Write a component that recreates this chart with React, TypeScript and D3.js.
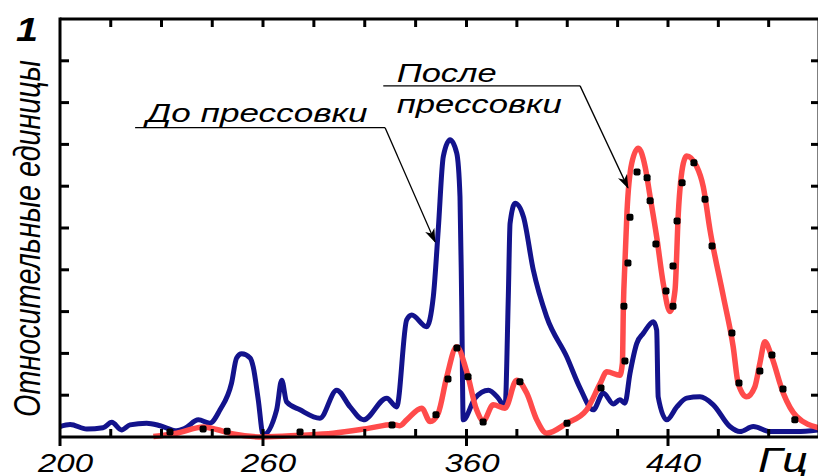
import * as d3 from "d3";
import { useEffect, useRef } from "react";

// spectra: [Hz, relative units]
const beforePressing: [number, number][] = [
  [200.0, 0.025], [203.0, 0.030], [207.9, 0.019], [212.7, 0.022], [215.3, 0.035], [218.2, 0.017],
  [220.7, 0.029], [225.6, 0.033], [229.6, 0.027], [234.5, 0.015], [236.9, 0.021], [240.9, 0.041],
  [244.3, 0.033], [247.3, 0.065], [250.7, 0.129], [252.2, 0.189], [253.7, 0.199], [256.2, 0.189],
  [257.1, 0.168], [258.6, 0.089], [260.1, 0.005], [266.7, 0.065], [269.2, 0.136], [271.6, 0.084],
  [278.2, 0.065], [288.0, 0.045], [296.2, 0.112], [302.8, 0.072], [309.3, 0.041], [320.8, 0.093],
  [325.7, 0.072], [330.6, 0.280], [333.1, 0.292], [340.4, 0.264], [343.7, 0.336], [346.1, 0.495],
  [348.6, 0.671], [351.9, 0.711], [355.2, 0.679], [356.8, 0.575], [357.6, 0.336], [358.4, 0.041],
  [363.4, 0.093], [368.7, 0.112], [372.6, 0.093], [375.3, 0.072], [376.6, 0.336], [377.3, 0.511],
  [379.3, 0.559], [382.6, 0.527], [386.5, 0.400], [391.8, 0.288], [399.8, 0.192], [405.1, 0.117],
  [410.3, 0.065], [414.3, 0.105], [418.3, 0.079], [420.9, 0.089], [422.9, 0.081], [424.9, 0.152],
  [427.6, 0.224], [430.2, 0.248], [434.2, 0.276], [435.5, 0.256], [436.1, 0.096], [439.5, 0.041],
  [443.5, 0.072], [447.4, 0.093], [452.7, 0.096], [458.0, 0.077], [464.6, 0.025], [468.6, 0.013],
  [473.9, 0.025], [480.5, 0.013], [491.1, 0.013], [500.0, 0.017],
];

const afterPressing: [number, number][] = [
  [227.6, 0.001], [234.5, 0.009], [242.4, 0.024], [246.3, 0.018], [251.2, 0.007], [260.1, 0.0],
  [278.2, 0.004], [294.5, 0.009], [311.0, 0.020], [324.0, 0.030], [327.3, 0.027], [330.6, 0.041],
  [338.0, 0.069], [342.1, 0.037], [346.1, 0.057], [350.3, 0.144], [355.2, 0.216], [360.1, 0.156],
  [364.0, 0.065], [366.7, 0.039], [370.6, 0.077], [375.3, 0.069], [379.9, 0.136], [383.9, 0.105],
  [387.9, 0.041], [391.8, 0.009], [399.8, 0.033], [407.7, 0.065], [413.0, 0.127], [415.7, 0.156],
  [420.9, 0.148], [421.9, 0.177], [422.3, 0.316], [422.9, 0.416], [423.7, 0.536], [425.6, 0.655],
  [428.2, 0.691], [430.9, 0.647], [432.9, 0.575], [435.5, 0.479], [438.1, 0.368], [440.8, 0.300],
  [442.8, 0.352], [444.1, 0.535], [446.1, 0.655], [447.4, 0.672], [451.4, 0.647], [454.0, 0.599],
  [456.7, 0.495], [462.0, 0.336], [465.9, 0.216], [467.9, 0.128], [471.2, 0.096], [474.5, 0.120],
  [476.5, 0.176], [478.5, 0.228], [481.2, 0.192], [485.8, 0.105], [491.1, 0.049], [500.0, 0.022],
];

// black measured points along the red curve
const afterMarkers: [number, number][] = [
  [232.5, 0.012], [242.3, 0.019], [249.4, 0.014], [278.2, 0.012], [323.4, 0.029], [345.0, 0.053],
  [350.9, 0.139], [355.3, 0.213], [360.6, 0.144], [366.6, 0.036], [381.2, 0.132], [399.9, 0.033],
  [413.4, 0.117], [422.9, 0.182], [422.5, 0.313], [424.1, 0.416], [424.9, 0.526], [427.7, 0.634],
  [431.7, 0.620], [432.9, 0.565], [435.2, 0.462], [439.2, 0.349], [442.0, 0.313], [442.0, 0.409],
  [443.6, 0.517], [445.6, 0.608], [450.3, 0.656], [454.7, 0.569], [457.5, 0.457], [465.4, 0.249],
  [468.2, 0.129], [476.5, 0.158], [481.3, 0.196], [485.7, 0.115], [490.4, 0.041],
];

// the axis labels are evenly spaced although their values are not
const majorTicks = [200, 260, 360, 440];
const minorTicks = [215, 230, 245, 285, 310, 335, 380, 400, 420, 460, 480];
const yTicks = [0.1, 0.2, 0.3, 0.4, 0.5, 0.6, 0.7, 0.8, 0.9];

export default function App() {
  const ref = useRef<SVGSVGElement>(null);

  useEffect(() => {
    const svg = d3.select(ref.current);
    svg.selectAll("*").remove();

    const width = 818;
    const height = 476;
    svg.attr("width", width).attr("height", height);

    const x = d3.scaleLinear()
      .domain([200, 260, 360, 440, 500])
      .range([60, 263, 466.5, 668, 819]);
    const y = d3.scaleLinear().domain([0, 1]).range([437, 19]);

    const font = "'Liberation Sans', Arial, sans-serif";

    const defs = svg.append("defs");
    defs.append("marker")
      .attr("id", "arrow")
      .attr("viewBox", "0 0 14 10")
      .attr("refX", 13)
      .attr("refY", 5)
      .attr("markerWidth", 14)
      .attr("markerHeight", 10)
      .attr("markerUnits", "userSpaceOnUse")
      .attr("orient", "auto")
      .append("path")
      .attr("d", "M0,0 L14,5 L0,10 L4,5 Z")
      .attr("fill", "#000");

    const line = d3.line<[number, number]>()
      .x(d => x(d[0]))
      .y(d => y(d[1]))
      .curve(d3.curveMonotoneX);

    svg.append("path")
      .datum(beforePressing)
      .attr("d", line)
      .attr("fill", "none")
      .attr("stroke", "#13138c")
      .attr("stroke-width", 5)
      .attr("stroke-linejoin", "round");

    svg.append("path")
      .datum(afterPressing)
      .attr("d", line)
      .attr("fill", "none")
      .attr("stroke", "#ff4b4b")
      .attr("stroke-width", 5.5)
      .attr("stroke-linejoin", "round");

    svg.append("g")
      .selectAll("rect")
      .data(afterMarkers)
      .join("rect")
      .attr("x", d => x(d[0]) - 3.5)
      .attr("y", d => y(d[1]) - 3.5)
      .attr("width", 7)
      .attr("height", 7)
      .attr("rx", 2)
      .attr("fill", "#000");

    // frame
    const axis = svg.append("g").attr("stroke", "#000").attr("stroke-width", 3).attr("fill", "none");
    axis.append("line").attr("x1", x(200)).attr("x2", x(500) + 2).attr("y1", y(0)).attr("y2", y(0));
    axis.append("line").attr("x1", x(200)).attr("x2", x(500) + 2).attr("y1", y(1)).attr("y2", y(1));
    axis.append("line").attr("x1", x(200)).attr("x2", x(200)).attr("y1", y(1) - 1.5).attr("y2", y(0) + 9);
    axis.append("line").attr("x1", x(500)).attr("x2", x(500)).attr("y1", y(1)).attr("y2", y(0));

    axis.selectAll(".minor")
      .data(minorTicks)
      .join("line")
      .attr("x1", d => x(d)).attr("x2", d => x(d))
      .attr("y1", y(0)).attr("y2", y(0) - 8);
    axis.selectAll(".major")
      .data(majorTicks.slice(1))
      .join("line")
      .attr("x1", d => x(d)).attr("x2", d => x(d))
      .attr("y1", y(0) - 8).attr("y2", y(0) + 9);
    axis.selectAll(".top")
      .data([...minorTicks, ...majorTicks.slice(1)])
      .join("line")
      .attr("x1", d => x(d)).attr("x2", d => x(d))
      .attr("y1", y(1)).attr("y2", y(1) + 8);
    axis.selectAll(".left")
      .data(yTicks)
      .join("line")
      .attr("x1", x(200)).attr("x2", x(200) + 9)
      .attr("y1", d => y(d)).attr("y2", d => y(d));
    axis.selectAll(".right")
      .data(yTicks)
      .join("line")
      .attr("x1", x(500)).attr("x2", x(500) - 8)
      .attr("y1", d => y(d)).attr("y2", d => y(d));

    const labels = svg.append("g")
      .attr("font-family", font)
      .attr("font-style", "italic")
      .attr("fill", "#000");

    labels.selectAll(".xlab")
      .data(majorTicks)
      .join("text")
      .attr("x", d => x(d) + 5.5)
      .attr("y", 472)
      .attr("text-anchor", "middle")
      .attr("font-size", 25)
      .attr("textLength", 55)
      .attr("lengthAdjust", "spacingAndGlyphs")
      .text(d => d);

    labels.append("text")
      .attr("x", 758)
      .attr("y", 472)
      .attr("font-size", 35)
      .attr("textLength", 50)
      .attr("lengthAdjust", "spacingAndGlyphs")
      .text("Гц");

    labels.append("text")
      .attr("x", 16)
      .attr("y", 41)
      .attr("font-size", 34)
      .attr("font-weight", "bold")
      .attr("textLength", 22)
      .attr("lengthAdjust", "spacingAndGlyphs")
      .text("1");

    labels.append("text")
      .attr("transform", "translate(40,238.5) scale(1.25,1) rotate(-90)")
      .attr("text-anchor", "middle")
      .attr("font-size", 30)
      .attr("textLength", 357)
      .attr("lengthAdjust", "spacingAndGlyphs")
      .text("Относительные единицы");

    // callouts
    const note = svg.append("g").attr("stroke", "#000").attr("stroke-width", 1.3).attr("fill", "none");
    note.append("line")
      .attr("x1", x(222.2)).attr("x2", x(320)).attr("y1", y(0.74)).attr("y2", y(0.74));
    note.append("line")
      .attr("x1", x(320)).attr("y1", y(0.74))
      .attr("x2", x(344.5)).attr("y2", y(0.467))
      .attr("marker-end", "url(#arrow)");
    note.append("line")
      .attr("x1", x(319.1)).attr("x2", x(405.1)).attr("y1", y(0.84)).attr("y2", y(0.84));
    note.append("line")
      .attr("x1", x(405.1)).attr("y1", y(0.84))
      .attr("x2", x(424.1)).attr("y2", y(0.596))
      .attr("marker-end", "url(#arrow)");

    labels.append("text")
      .attr("x", x(225.6)).attr("y", y(0.754))
      .attr("font-size", 25)
      .attr("textLength", 221)
      .attr("lengthAdjust", "spacingAndGlyphs")
      .text("До прессовки");
    labels.append("text")
      .attr("x", x(325.7)).attr("y", y(0.85))
      .attr("font-size", 25)
      .attr("textLength", 100)
      .attr("lengthAdjust", "spacingAndGlyphs")
      .text("После");
    labels.append("text")
      .attr("x", x(325.7)).attr("y", y(0.774))
      .attr("font-size", 25)
      .attr("textLength", 165)
      .attr("lengthAdjust", "spacingAndGlyphs")
      .text("прессовки");
  }, []);

  return (
    <div style={{ position: "fixed", left: 0, top: 0, background: "#fff" }}>
      <svg ref={ref} style={{ display: "block" }}></svg>
    </div>
  );
}
